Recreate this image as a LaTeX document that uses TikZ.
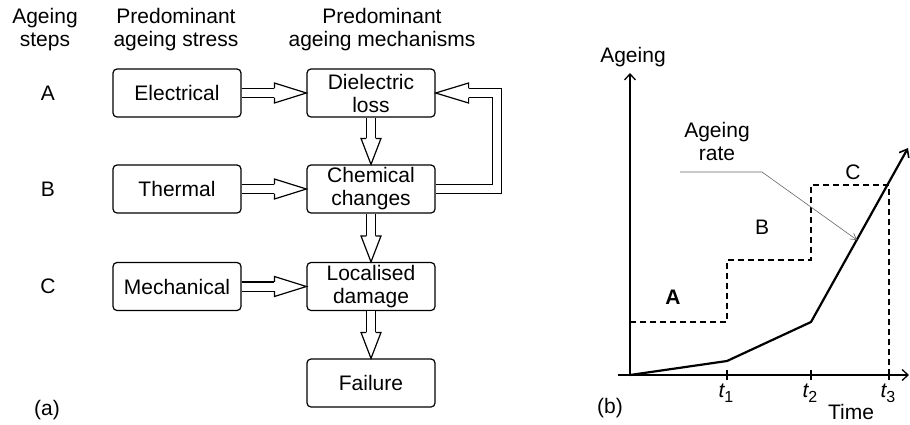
\documentclass[tikz,border=0pt]{standalone}
\usepackage{fontspec}
\setmainfont{Liberation Sans}
\usetikzlibrary{arrows.meta,calc}
\tikzset{
  every node/.style={font=\fontsize{21}{23}\selectfont},
  box/.style={draw, rounded corners=4pt, minimum width=128pt, minimum height=48pt, inner sep=0pt, align=center, line width=1.2pt},
  hdr/.style={align=center, inner sep=0pt},
  dbl/.style={draw, double, double distance=8pt, line width=1.2pt, line join=miter},
  hh/.pic={\filldraw[fill=white, line width=1.2pt, line join=miter] (-#1,4.6) -- (-#1,10) -- (0,0) -- (-#1,-10) -- (-#1,-4.6);},
  axis/.style={line width=1.5pt},
  barb/.style={-{Straight Barb[length=6pt,width=11pt,line width=1.3pt]}},
  curve/.style={line width=2.2pt, line join=miter},
  dsh/.style={line width=1.2pt, dash pattern=on 6pt off 4pt},
  lead/.style={line width=0.6pt, draw=black!60, -{Straight Barb[length=6pt,width=7pt]}},
  tlab/.style={inner sep=0pt}
}
\begin{document}
\begin{tikzpicture}[x=1pt,y=1pt]
\useasboundingbox (0,0) rectangle (910,-424);
% headers
\node[hdr] (h1) at (45,-30) {Ageing\\steps};
\node[hdr] (h2) at (176,-30) {Predominant\\ageing stress};
\node[hdr] (h3) at (382,-30) {Predominant\\ageing mechanisms};
% step labels
\node (sA) at (48,-93) {A};
\node (sB) at (48,-189) {B};
\node (sC) at (48,-286.5) {C};
\node (la) at (47,-410) {(a)};
% boxes
\node[box] (elec) at (177,-93) {Electrical};
\node[box] (diel) at (371,-93) {Dielectric\\loss};
\node[box] (therm) at (177,-189) {Thermal};
\node[box] (chem) at (371,-189) {Chemical\\changes};
\node[box] (mech) at (177,-286.5) {Mechanical};
\node[box] (loc) at (371,-286.5) {Localised\\damage};
\node[box] (fail) at (371,-383) {Failure};
% horizontal double arrows
\draw[dbl] (elec.east) -- ($(diel.west)+(-32,0)$);
\pic at (diel.west) {hh=32};
\draw[dbl] (therm.east) -- ($(chem.west)+(-32,0)$);
\pic at (chem.west) {hh=32};
\draw[dbl] (mech.east) -- ($(loc.west)+(-32,0)$);
\pic at (loc.west) {hh=32};
% vertical double arrows
\draw[dbl] (diel.south) -- ($(chem.north)+(0,26)$);
\pic[rotate=-90] at (chem.north) {hh=26};
\draw[dbl] (chem.south) -- ($(loc.north)+(0,26)$);
\pic[rotate=-90] at (loc.north) {hh=26};
\draw[dbl] (loc.south) -- ($(fail.north)+(0,26)$);
\pic[rotate=-90] at (fail.north) {hh=26};
% feedback
\draw[dbl] (chem.east) -- ++(61.5,0) |- ($(diel.east)+(33,0)$);
\pic[rotate=180] at (diel.east) {hh=33};

% ---------- panel (b)
\coordinate (O) at (630,-375);
\coordinate (ytop) at (630,-73);
\coordinate (xl) at (618,-375);
\coordinate (xr) at (909,-375);
\draw[axis,barb] (O) -- (ytop);
\draw[axis,barb] (xl) -- (xr);
\node (yl) at (633,-57) {Ageing};
% ticks
\coordinate (t1) at (727,-375);
\coordinate (t2) at (811,-375);
\coordinate (t3) at (889,-375);
\foreach \t in {t1,t2,t3} \draw[line width=1.2pt] ($(\t)+(0,5)$) -- ($(\t)+(0,-5)$);
\node[tlab] (lt1) at (726,-393) {\itshape t\raisebox{-5pt}{\upshape\fontsize{16}{16}\selectfont 1}};
\node[tlab] (lt2) at (810,-393) {\itshape t\raisebox{-5pt}{\upshape\fontsize{16}{16}\selectfont 2}};
\node[tlab] (lt3) at (888,-393) {\itshape t\raisebox{-5pt}{\upshape\fontsize{16}{16}\selectfont 3}};
\node (time) at (851,-412) {Time};
\node (lb) at (610,-408) {(b)};
% staircase
\coordinate (s0) at (630,-322);
\coordinate (s1) at (727,-322);
\coordinate (s2) at (727,-260);
\coordinate (s3) at (811,-260);
\coordinate (s4) at (811,-185);
\coordinate (s5) at (889,-185);
\draw[dsh] (s0) -- (s1) -- (s2) -- (s3) -- (s4) -- (s5) -- (t3);
% ageing curve
\coordinate (p1) at (727,-361);
\coordinate (p2) at (811,-322);
\coordinate (p3) at (908,-148);
\draw[curve,-{Straight Barb[length=7pt,width=11pt,line width=1.6pt]}] (O) -- (p1) -- (p2) -- (p3);
% labels
\node[font=\fontsize{21}{23}\selectfont\bfseries] (lA) at (673,-297) {A};
\node (lB) at (762,-227) {B};
\node (lC) at (853,-172) {C};
\node[hdr] (rate) at (717,-141) {Ageing\\rate};
% leader
\coordinate (r0) at (680,-172);
\coordinate (r1) at (762,-172);
\coordinate (r2) at (857,-240);
\draw[lead] (r0) -- (r1) -- (r2);
\end{tikzpicture}
\end{document}
